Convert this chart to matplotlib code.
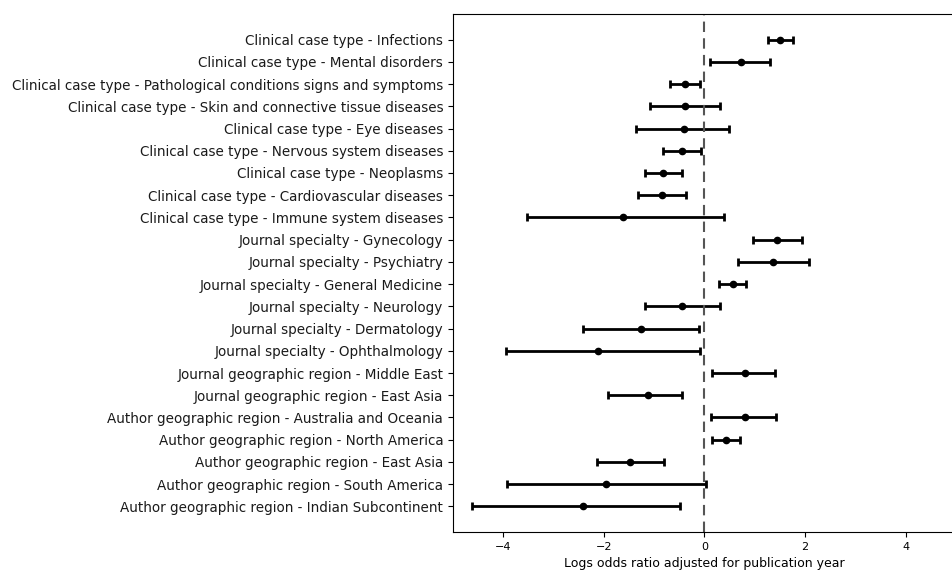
import matplotlib
matplotlib.use("Agg")
import matplotlib.pyplot as plt
import numpy as np

labels = [
    "Clinical case type - Infections",
    "Clinical case type - Mental disorders",
    "Clinical case type - Pathological conditions signs and symptoms",
    "Clinical case type - Skin and connective tissue diseases",
    "Clinical case type - Eye diseases",
    "Clinical case type - Nervous system diseases",
    "Clinical case type - Neoplasms",
    "Clinical case type - Cardiovascular diseases",
    "Clinical case type - Immune system diseases",
    "Journal specialty - Gynecology",
    "Journal specialty - Psychiatry",
    "Journal specialty - General Medicine",
    "Journal specialty - Neurology",
    "Journal specialty - Dermatology",
    "Journal specialty - Ophthalmology",
    "Journal geographic region - Middle East",
    "Journal geographic region - East Asia",
    "Author geographic region - Australia and Oceania",
    "Author geographic region - North America",
    "Author geographic region - East Asia",
    "Author geographic region - South America",
    "Author geographic region - Indian Subcontinent",
]
log_or = [1.50, 0.73, -0.38, -0.38, -0.41, -0.45, -0.82, -0.84, -1.61,
          1.45, 1.37, 0.56, -0.45, -1.26, -2.12,
          0.80, -1.13, 0.80, 0.42, -1.48, -1.96, -2.41]
ci_low = [1.26, 0.11, -0.68, -1.09, -1.36, -0.83, -1.18, -1.32, -3.52,
          0.97, 0.67, 0.29, -1.18, -2.42, -3.94,
          0.15, -1.91, 0.12, 0.15, -2.13, -3.93, -4.63]
ci_high = [1.76, 1.31, -0.09, 0.30, 0.49, -0.07, -0.45, -0.37, 0.38,
           1.93, 2.08, 0.82, 0.30, -0.11, -0.09,
           1.41, -0.44, 1.43, 0.71, -0.80, 0.03, -0.48]

est = np.array(log_or)
err = np.vstack([est - np.array(ci_low), np.array(ci_high) - est])
ypos = np.arange(len(labels))[::-1]

fig = plt.figure(figsize=(9.52, 5.7), dpi=100)
ax = fig.add_axes([0.4758, 0.0667, 0.5284, 0.9087])

ax.errorbar(est, ypos, xerr=err, fmt='o', color='black', ecolor='black',
            elinewidth=2, capsize=3, capthick=2, markersize=4.5)
ax.axvline(0, color='#555555', linestyle=(0, (5, 3)), linewidth=1.5)

ax.set_yticks(ypos)
ax.set_yticklabels(labels, fontsize=9.75, color='#1a1a1a')
ax.tick_params(axis='x', labelsize=8)
ax.set_xlim(-5, 5)
ax.set_ylim(-1.15, len(labels) - 1 + 1.15)
ax.set_xticks([-4, -2, 0, 2, 4])
ax.set_xlabel("Logs odds ratio adjusted for publication year", fontsize=9)

fig.savefig("out.png", dpi=100)
